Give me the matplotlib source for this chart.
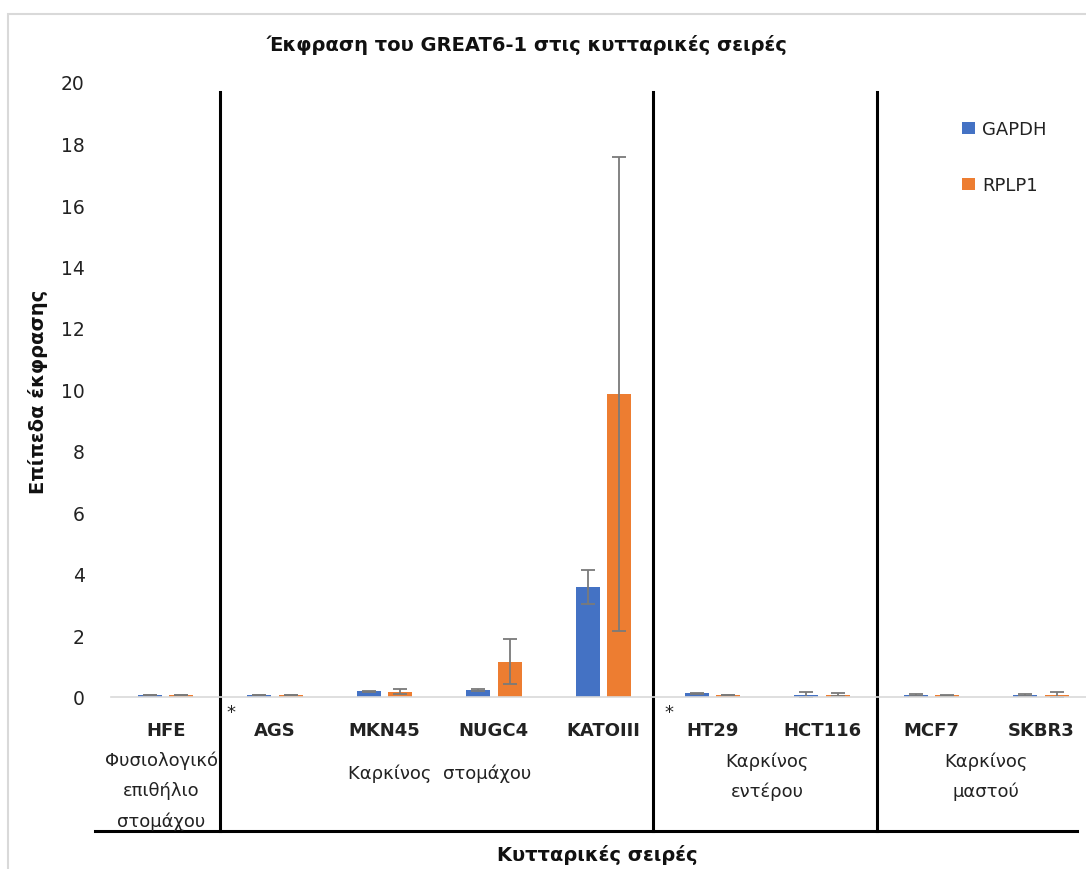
#!/usr/bin/env python3

import numpy as np
import matplotlib
matplotlib.use('Agg')
import matplotlib.pyplot as plt
from matplotlib.patches import Rectangle
from matplotlib.transforms import blended_transform_factory

cell_lines = ['HFE', 'AGS', 'MKN45', 'NUGC4', 'KATOIII', 'HT29', 'HCT116', 'MCF7', 'SKBR3']
gapdh = [0.08, 0.07, 0.18, 0.22, 3.58, 0.12, 0.07, 0.07, 0.07]
gapdh_err = [0.0, 0.0, 0.03, 0.03, 0.55, 0.01, 0.10, 0.04, 0.04]
rplp1 = [0.08, 0.07, 0.17, 1.15, 9.85, 0.06, 0.08, 0.06, 0.08]
rplp1_err = [0.0, 0.0, 0.08, 0.73, 7.70, 0.0, 0.05, 0.02, 0.08]

# groups: (label, position in category units)
groups = [('Φυσιολογικό\nεπιθήλιο\nστομάχου', -0.04),
	('Καρκίνος  στομάχου', 2.5),
	('Καρκίνος\nεντέρου', 5.5),
	('Καρκίνος\nμαστού', 7.5)]
separators = [0.5, 4.45, 6.5]
starred = [1, 5]

BLUE = '#4472C4'
ORANGE = '#ED7D31'
FONT = ['DejaVu Sans']

def main():
	plt.rcParams['font.family'] = FONT
	fig = plt.figure(figsize=(10.86, 8.7), dpi=100)
	W, H = 1086.0, 870.0
	step = 109.4
	ax = fig.add_axes([111 / W, 172 / H, (W - 111) / W, 615 / H])

	x = np.arange(len(cell_lines))
	w = 0.22
	ekw = dict(ecolor='#7a7a7a', elinewidth=1.3, capsize=5, capthick=1.3)
	ax.bar(x - 0.143, gapdh, w, yerr=gapdh_err, color=BLUE, label='GAPDH', error_kw=ekw)
	ax.bar(x + 0.143, rplp1, w, yerr=rplp1_err, color=ORANGE, label='RPLP1', error_kw=ekw)

	ax.set_xlim(-0.5, -0.5 + (W - 111) / step)
	ax.set_ylim(0, 20)
	ax.set_yticks(range(0, 21, 2))
	ax.tick_params(axis='y', length=0, pad=19, labelsize=13.5, colors='#222222')
	ax.set_xticks([])
	for s in ['top', 'right', 'left']:
		ax.spines[s].set_visible(False)
	ax.spines['bottom'].set_color('#d9d9d9')
	ax.spines['bottom'].set_linewidth(1.2)

	tr = blended_transform_factory(ax.transData, ax.transAxes)
	# category names and group labels
	for i, name in enumerate(cell_lines):
		ax.text(i, -0.054, name, transform=tr, ha='center', va='center',
			fontsize=13, fontweight='bold', color='#222222')
	for label, pos in groups:
		if label.startswith('Φυσιολογικό'):
			y0 = -0.152
		elif '\n' in label:
			y0 = -0.128
		else:
			y0 = -0.123
		ax.text(pos, y0, label, transform=tr, ha='center', va='center',
			fontsize=13, color='#222222', linespacing=1.85)
	for i in starred:
		ax.text(i - 0.40, -0.024, '*', transform=tr, ha='center', va='center',
			fontsize=13, color='#222222')

	# black separator lines
	for s in separators:
		ax.plot([s, s], [0.984, -0.218], transform=tr, color='black', lw=2.2, clip_on=False)
	ax.plot([-0.65, 8.33], [-0.218, -0.218], transform=tr, color='black', lw=2.2, clip_on=False)

	fig.text(527 / W, 1 - 45 / H, 'Έκφραση του GREAT6-1 στις κυτταρικές σειρές',
		ha='center', va='center', fontsize=14, fontweight='bold', color='#111111')
	fig.text(597 / W, 1 - 855 / H, 'Κυτταρικές σειρές',
		ha='center', va='center', fontsize=14, fontweight='bold', color='#111111')
	fig.text(38 / W, 1 - 392 / H, 'Επίπεδα έκφρασης', rotation=90,
		ha='center', va='center', fontsize=14, fontweight='bold', color='#111111')

	leg = ax.legend(loc='upper left', bbox_to_anchor=(946 / W, 1 - 105 / H),
		bbox_transform=fig.transFigure, frameon=False, fontsize=13,
		handlelength=0.7, handleheight=0.7, handletextpad=0.4, labelspacing=2.1)
	for t in leg.get_texts():
		t.set_color('#222222')

	# light chart-area frame, cut at the right and bottom like the source
	fig.patches.append(Rectangle((8 / W, -0.5), 2.0, 1 - 15 / H + 0.5, transform=fig.transFigure,
		fill=False, edgecolor='#d9d9d9', lw=1.5, zorder=0))

	fig.savefig('out.png', dpi=100)

if __name__ == '__main__':
	main()
